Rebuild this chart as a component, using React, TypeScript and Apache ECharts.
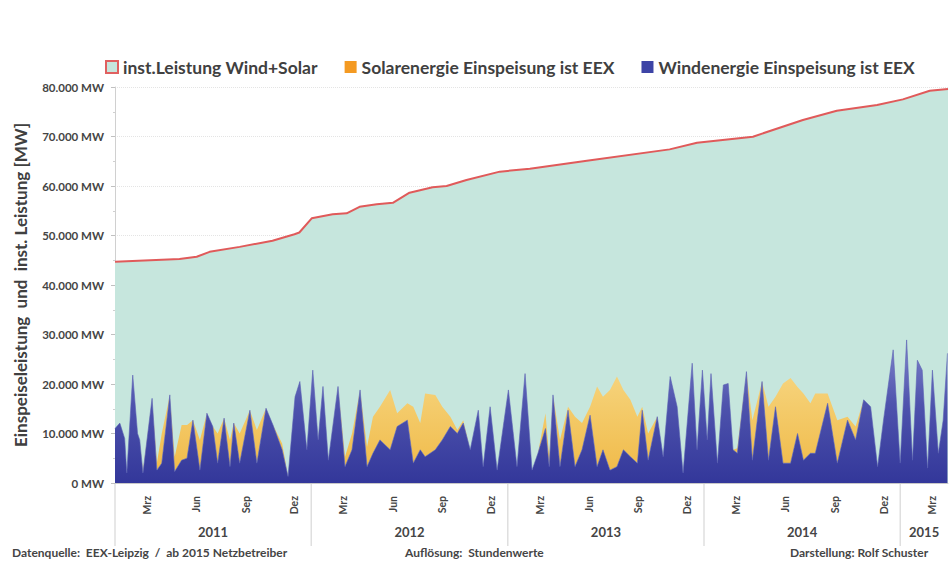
import React, { useEffect, useRef } from "react";
import * as echarts from "echarts";

const NAME_CAP = "inst.Leistung Wind+Solar";
const NAME_SOLAR = "Solarenergie Einspeisung ist EEX";
const NAME_WIND = "Windenergie Einspeisung ist EEX";

const X_MIN = "2011-01-01";
const X_MAX = "2015-03-31";

// installed capacity wind + solar (MW)
const capDates = [
  "2011-01-01", "2011-05-01", "2011-06-02", "2011-06-26", "2011-08-21", "2011-10-21",
  "2011-12-01", "2011-12-10", "2012-01-02", "2012-02-10", "2012-03-07", "2012-03-31",
  "2012-05-02", "2012-06-01", "2012-07-02", "2012-08-14", "2012-09-09", "2012-10-16",
  "2012-12-17", "2013-02-11", "2013-05-28", "2013-10-29", "2013-12-19", "2014-04-02",
  "2014-07-04", "2014-09-05", "2014-11-19", "2015-01-06", "2015-02-25", "2015-03-31",
];
const capValues = [
  44700, 45250, 45700, 46700, 47700, 48950,
  50240, 50600, 53470, 54280, 54480, 55800,
  56300, 56600, 58650, 59730, 60000, 61200,
  62900, 63500, 65100, 67400, 68750, 69960,
  73330, 75200, 76360, 77500, 79250, 79600,
];

// feed-in (envelope)
const feedDates = [
  "2011-01-01", "2011-01-10", "2011-01-19", "2011-01-23", "2011-02-03", "2011-02-12",
  "2011-02-16", "2011-02-22", "2011-03-11", "2011-03-20", "2011-03-29", "2011-04-13",
  "2011-04-22", "2011-05-05", "2011-05-15", "2011-05-26", "2011-06-08", "2011-06-21",
  "2011-07-02", "2011-07-11", "2011-07-23", "2011-08-03", "2011-08-10", "2011-08-21",
  "2011-09-09", "2011-09-22", "2011-10-09", "2011-10-22", "2011-11-08", "2011-11-19",
  "2011-12-02", "2011-12-11", "2011-12-24", "2012-01-04", "2012-01-14", "2012-01-23",
  "2012-02-02", "2012-02-20", "2012-03-04", "2012-03-17", "2012-04-01", "2012-04-14",
  "2012-04-25", "2012-05-08", "2012-05-27", "2012-06-09", "2012-06-28", "2012-07-09",
  "2012-07-22", "2012-07-31", "2012-08-19", "2012-09-01", "2012-09-16", "2012-09-29",
  "2012-10-10", "2012-10-23", "2012-11-07", "2012-11-16", "2012-11-29", "2012-12-12",
  "2013-01-02", "2013-01-18", "2013-02-02", "2013-02-15", "2013-02-26", "2013-03-12",
  "2013-03-19", "2013-03-26", "2013-04-08", "2013-04-23", "2013-05-06", "2013-05-19",
  "2013-06-03", "2013-06-16", "2013-06-27", "2013-07-10", "2013-07-23", "2013-08-04",
  "2013-08-17", "2013-08-30", "2013-09-08", "2013-09-19", "2013-10-06", "2013-10-17",
  "2013-10-30", "2013-11-12", "2013-11-23", "2013-12-10", "2013-12-19", "2013-12-29",
  "2014-01-07", "2014-01-14", "2014-01-26", "2014-02-06", "2014-02-15", "2014-02-24",
  "2014-03-04", "2014-03-21", "2014-04-01", "2014-04-19", "2014-05-01", "2014-05-14",
  "2014-05-28", "2014-06-11", "2014-06-24", "2014-07-05", "2014-07-18", "2014-07-27",
  "2014-08-19", "2014-09-06", "2014-09-25", "2014-10-10", "2014-10-25", "2014-11-07",
  "2014-11-20", "2014-12-01", "2014-12-19", "2015-01-01", "2015-01-13", "2015-01-24",
  "2015-02-02", "2015-02-11", "2015-02-21", "2015-03-02", "2015-03-13", "2015-03-22",
  "2015-03-30",
];
const windValues = [
  11000, 12100, 9000, 2000, 21800, 10000,
  8700, 2000, 17100, 2600, 4000, 17800,
  2300, 4600, 5000, 12700, 2600, 14100,
  11400, 4000, 13100, 3300, 12100, 4000,
  14700, 4000, 15100, 11700, 6700, 1300,
  17400, 20500, 6700, 22800, 8700, 19500,
  4600, 19500, 3300, 6700, 18800, 3300,
  6000, 8700, 6700, 11400, 12700, 4000,
  6700, 5300, 6700, 8700, 11400, 10000,
  12100, 6700, 14700, 3300, 15400, 2600,
  18800, 3300, 22100, 2600, 6000, 11000,
  3300, 17800, 3300, 14700, 3300, 6700,
  13700, 3300, 6700, 2600, 3300, 6700,
  5300, 4000, 14700, 4600, 13400, 5300,
  21500, 15400, 2000, 24200, 6700, 22800,
  8700, 22100, 4000, 19800, 20100, 6700,
  6000, 22500, 4600, 20500, 4600, 15400,
  4000, 4000, 10000, 4600, 6000, 6000,
  16100, 4000, 12700, 8700, 16800, 15400,
  3300, 12700, 26900, 4000, 28900, 4600,
  24800, 22800, 3000, 22800, 6000, 12700,
  26200,
];
const solarValues = [
  0, 0, 0, 0, 0, 0,
  0, 500, 0, 1500, 6000, 0,
  3000, 7100, 6700, 0, 6100, 0,
  0, 6000, 0, 5400, 0, 6000,
  0, 6700, 0, 0, 1300, 0,
  0, 0, 0, 0, 0, 0,
  0, 0, 2000, 3300, 0, 4000,
  7400, 6700, 12100, 2700, 3400, 11400,
  5400, 12800, 11100, 6700, 2000, 700,
  600, 0, 0, 0, 0, 0,
  0, 0, 0, 0, 0, 3100,
  2000, 0, 5400, 700, 10100, 5400,
  1700, 16200, 10700, 16200, 18200, 12100,
  11500, 9400, 700, 5400, 0, 0,
  0, 0, 0, 0, 0, 0,
  0, 0, 0, 0, 0, 0,
  1000, 0, 8100, 0, 10800, 2000,
  16100, 17200, 9400, 13500, 10100, 12100,
  2000, 8700, 700, 2700, 0, 0,
  0, 0, 0, 0, 0, 0,
  0, 0, 0, 0, 0, 0,
  0,
];

const yTickValues = [0, 10000, 20000, 30000, 40000, 50000, 60000, 70000, 80000];
const monthNames: Record<number, string> = { 2: "Mrz", 5: "Jun", 8: "Sep", 11: "Dez" };
const yearList = [2011, 2012, 2013, 2014, 2015];

const FONT = "Lato, 'Open Sans', sans-serif";
const TXT = "#454545";

function fmtMW(v: number) {
  if (v === 0) return "0 MW";
  return `${Math.round(v / 1000)}.000 MW`;
}

function parseDate(s: string) {
  const [y, m, d] = s.split("-").map(Number);
  return new Date(y, m - 1, d).getTime();
}

export default function App() {
  const ref = useRef<HTMLDivElement>(null);

  useEffect(() => {
    if (!ref.current) return;
    const chart = echarts.init(ref.current, undefined, { renderer: "svg" });

    const option: any = {
      animation: false,
      backgroundColor: "#ffffff",
      textStyle: { fontFamily: FONT },
      grid: { left: 115, right: 1, top: 87, bottom: 80, containLabel: false },
      legend: {
        left: 100,
        top: 53,
        itemWidth: 12,
        itemHeight: 12,
        itemGap: 27,
        textStyle: { fontFamily: FONT, fontSize: 17.5, fontWeight: "bold", color: "#404040" },
        data: [
          { name: NAME_CAP, icon: "rect", itemStyle: { color: "#c6e6dd", borderColor: "#e06060", borderWidth: 2 } },
          { name: NAME_SOLAR, icon: "rect", itemStyle: { color: "#f49a22" } },
          { name: NAME_WIND, icon: "rect", itemStyle: { color: "#3d44a6" } },
        ],
      },
      xAxis: {
        type: "time",
        min: parseDate(X_MIN),
        max: parseDate(X_MAX),
        minInterval: 28 * 86400000,
        maxInterval: 31 * 86400000,
        axisLine: { show: true, lineStyle: { color: "#c8c8c8" } },
        axisTick: { show: false },
        splitLine: { show: false },
        axisLabel: {
          rotate: 90,
          margin: 13,
          fontSize: 10.5,
          fontWeight: "bold",
          color: TXT,
          fontFamily: FONT,
          hideOverlap: false,
          formatter: (val: number) => {
            const d = new Date(val);
            if (d.getDate() !== 1) return "";
            return monthNames[d.getMonth()] ?? "";
          },
        },
      },
      yAxis: {
        type: "value",
        min: yTickValues[0],
        max: yTickValues[yTickValues.length - 1],
        interval: 10000,
        name: "Einspeiseleistung  und  inst. Leistung [MW]",
        nameLocation: "middle",
        nameGap: 86,
        nameTextStyle: { fontFamily: FONT, fontSize: 17, fontWeight: "bold", color: "#404040" },
        axisLine: { show: true, lineStyle: { color: "#d0d0d0" } },
        axisTick: { show: true, length: 4, lineStyle: { color: "#c0c0c0" } },
        minorTick: { show: true, splitNumber: 2, length: 2, lineStyle: { color: "#d0d0d0" } },
        splitLine: { show: true, lineStyle: { color: "#e4e4e4", type: "dotted" } },
        axisLabel: {
          formatter: (v: number) => fmtMW(v),
          fontSize: 11.5,
          fontWeight: "bold",
          color: TXT,
          fontFamily: FONT,
          margin: 11,
        },
      },
      series: [
        {
          name: NAME_CAP,
          type: "line",
          data: capDates.map((d, i) => [parseDate(d), capValues[i]]),
          showSymbol: false,
          symbol: "none",
          lineStyle: { color: "#e05a5a", width: 2 },
          itemStyle: { color: "#e05a5a" },
          areaStyle: { color: "#c6e6dd", opacity: 1 },
          z: 1,
        },
        {
          name: NAME_WIND,
          type: "line",
          stack: "feed",
          data: feedDates.map((d, i) => [parseDate(d), windValues[i]]),
          showSymbol: false,
          symbol: "none",
          lineStyle: { width: 0.6, color: "#5a5fb4" },
          itemStyle: { color: "#3d44a6" },
          areaStyle: {
            opacity: 1,
            color: new echarts.graphic.LinearGradient(0, 0, 0, 1, [
              { offset: 0, color: "#8286cc" },
              { offset: 0.45, color: "#4e53ad" },
              { offset: 1, color: "#33379a" },
            ]),
          },
          z: 3,
        },
        {
          name: NAME_SOLAR,
          type: "line",
          stack: "feed",
          data: feedDates.map((d, i) => [parseDate(d), solarValues[i]]),
          showSymbol: false,
          symbol: "none",
          lineStyle: { width: 0 },
          itemStyle: { color: "#f49a22" },
          areaStyle: {
            opacity: 1,
            color: new echarts.graphic.LinearGradient(0, 0, 0, 1, [
              { offset: 0, color: "#f8dc8e" },
              { offset: 1, color: "#f0ba48" },
            ]),
          },
          z: 2,
        },
      ],
    };

    chart.setOption(option);

    // year separators and centred year labels, placed through the axis scale
    const minT = parseDate(X_MIN);
    const maxT = parseDate(X_MAX);
    const graphics: any[] = [];
    const plotBottom = 483;
    yearList.forEach((y) => {
      const start = Math.max(new Date(y, 0, 1).getTime(), minT);
      const end = Math.min(new Date(y + 1, 0, 1).getTime(), maxT);
      const xs = chart.convertToPixel({ xAxisIndex: 0 }, start) as number;
      const xe = chart.convertToPixel({ xAxisIndex: 0 }, end) as number;
      graphics.push({
        type: "line",
        shape: { x1: xs, y1: plotBottom, x2: xs, y2: 546 },
        style: { stroke: "#cfcfcf", lineWidth: 1 },
        silent: true,
      });
      graphics.push({
        type: "text",
        x: (xs + xe) / 2,
        y: 532,
        style: {
          text: String(y),
          fill: TXT,
          font: `bold 13px ${FONT}`,
          textAlign: "center",
          textVerticalAlign: "middle",
        },
        silent: true,
      });
    });
    const footer = [
      { text: "Datenquelle:  EEX-Leipzig  /  ab 2015 Netzbetreiber", x: 12 },
      { text: "Auflösung:  Stundenwerte", x: 405 },
      { text: "Darstellung: Rolf Schuster", x: 790 },
    ];
    footer.forEach((f) => {
      graphics.push({
        type: "text",
        x: f.x,
        y: 552,
        style: {
          text: f.text,
          fill: TXT,
          font: `bold 12px ${FONT}`,
          textAlign: "left",
          textVerticalAlign: "middle",
        },
        silent: true,
      });
    });
    chart.setOption({ graphic: graphics });

    return () => chart.dispose();
  }, []);

  return (
    <div
      ref={ref}
      style={{ position: "absolute", left: 0, top: 0, width: 949, height: 563 }}
    />
  );
}
